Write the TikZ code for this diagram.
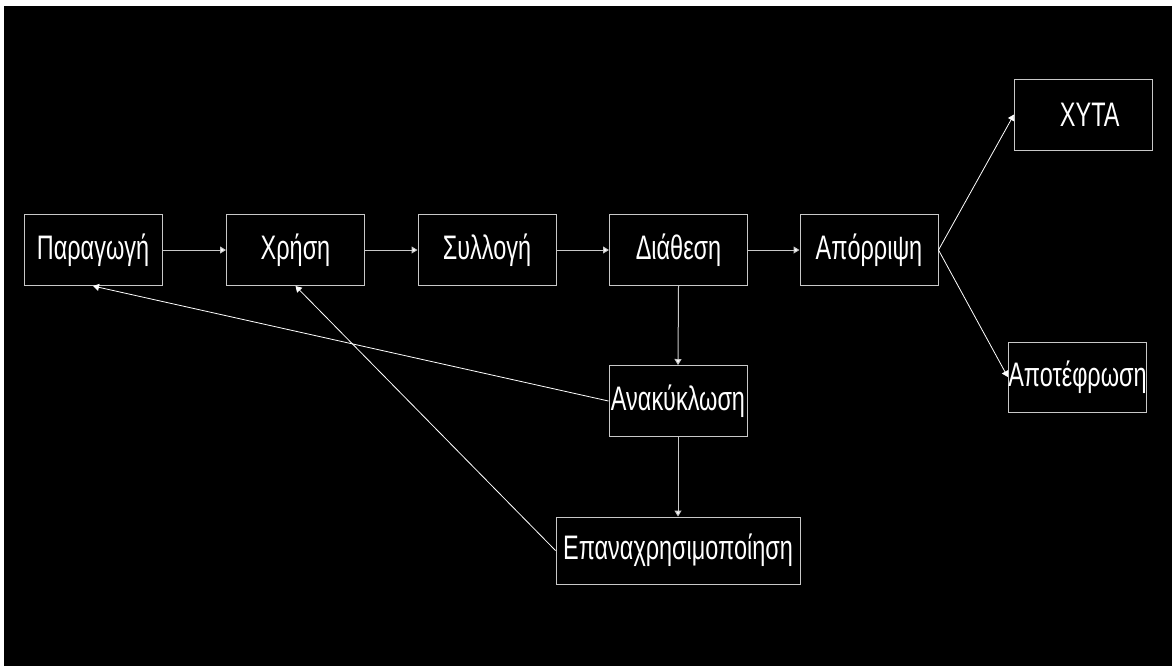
\documentclass[tikz,border=0pt]{standalone}
\usepackage{fontspec}
\setmainfont{Liberation Sans}[FakeStretch=0.69]
\usetikzlibrary{arrows.meta}

\definecolor{edgegrey}{RGB}{200,200,200}

\begin{document}
\begin{tikzpicture}[x=0.5pt,y=-0.5pt,
  stage/.style={draw=edgegrey, line width=0.5pt, text=white, inner sep=0pt,
    minimum width=69pt, minimum height=35.5pt, font=\fontsize{17}{20}\selectfont},
  flow/.style={draw=edgegrey, line width=0.5pt, -{Triangle[length=3pt,width=3.5pt,fill=white]}},
  back/.style={draw=white, line width=0.4pt, -{Triangle[length=3pt,width=3.5pt,fill=white]}}]

 \useasboundingbox (0,0) rectangle (1172,666);
 \fill[white] (0,0) rectangle (1172,666);
 \fill[black] (4,6) rectangle (1172,666);

 \node[stage] (paragogi) at (93,250) {Παραγωγή};
 \node[stage] (xrisi) at (295.5,250) {Χρήση};
 \node[stage] (syllogi) at (487,250) {Συλλογή};
 \node[stage] (diathesi) at (678.5,250) {Διάθεση};
 \node[stage] (aporripsi) at (869,250) {Απόρριψη};

 \node[stage, text width=64pt, align=right] (xyta) at (1083.5,114.5) {ΧΥΤΑ\hspace*{14pt}};
 \node[stage, minimum height=35pt] (apotefrosi) at (1077.5,377) {Αποτέφρωση};

 \node[stage] (anakyklosi) at (678,401) {Ανακύκλωση};
 \node[stage, minimum width=122pt, minimum height=33.5pt] (epanax) at (678,550.5) {Επαναχρησιμοποίηση};

 % main chain
 \draw[flow] (paragogi) -- (xrisi);
 \draw[flow] (xrisi) -- (syllogi);
 \draw[flow] (syllogi) -- (diathesi);
 \draw[flow] (diathesi) -- (aporripsi);

 \draw[flow] (diathesi.south) -- (anakyklosi.north);
 \draw[flow] (anakyklosi.south) -- (epanax.north);

 \draw[back] (aporripsi.east) -- (xyta.west);
 \draw[back] (aporripsi.east) -- (apotefrosi.west);

 % loops back
 \draw[back] (anakyklosi.west) -- (paragogi.south);
 \draw[back] (epanax.west) -- (xrisi.south);
\end{tikzpicture}
\end{document}
